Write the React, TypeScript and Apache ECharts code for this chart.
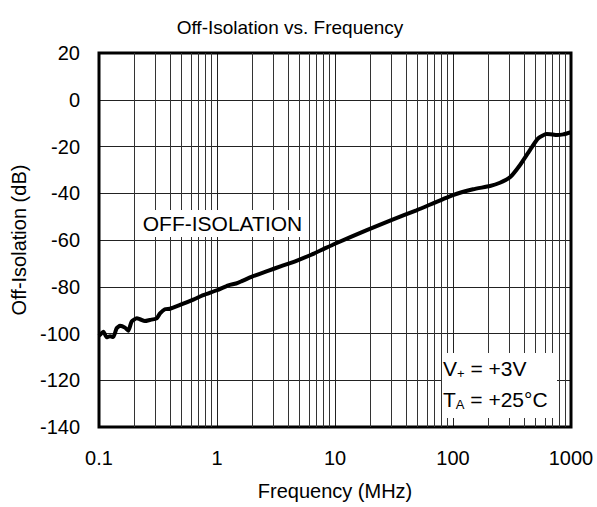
import React, { useEffect, useRef } from "react";
import * as echarts from "echarts";

const frequencyMHz = [
  0.1, 0.102, 0.109, 0.116, 0.124, 0.132, 0.141, 0.151, 0.166, 0.177, 0.189,
  0.209, 0.2225, 0.245, 0.27, 0.308, 0.329, 0.362, 0.4, 0.486, 0.63, 0.765,
  1.0, 1.25, 1.45, 1.62, 2.0, 2.7, 3.5, 4.6, 6.3, 8.2, 10, 18.6, 30, 49, 100,
  148, 206, 250, 304, 370, 449, 528, 622, 700, 757, 861, 1000,
];
const offIsolationDb = [
  -101, -100.6, -99.2, -101.6, -101.2, -101.5, -97.8, -96.7, -97.5, -98.8,
  -94.9, -93.5, -93.9, -94.7, -94.2, -93.5, -91.4, -89.6, -89.4, -87.8, -85.5,
  -83.6, -81.5, -79.4, -78.6, -77.6, -75.6, -73.2, -71.2, -69.1, -66.3, -63.6,
  -61.6, -55.8, -51.5, -47.3, -40.8, -38.3, -36.9, -35.5, -33.2, -27.9, -21.5,
  -16.5, -14.7, -14.9, -15.1, -14.8, -13.9,
];
const minorFreqLines = [
  0.2, 0.3, 0.4, 0.5, 0.6, 0.7, 0.8, 0.9,
  2, 3, 4, 5, 6, 7, 8, 9,
  20, 30, 40, 50, 60, 70, 80, 90,
  200, 300, 400, 500, 600, 700, 800, 900,
];
const yMin = -140;
const yMax = 20;
const yStep = 20;

const FONT = "'Liberation Sans', Arial, sans-serif";

export default function App() {
  const ref = useRef<HTMLDivElement>(null);
  useEffect(() => {
    if (!ref.current) return;
    const chart = echarts.init(ref.current, undefined, { renderer: "svg" });
    chart.setOption({
      animation: false,
      backgroundColor: "#fff",
      textStyle: { fontFamily: FONT, color: "#000" },
      title: {
        text: "Off-Isolation vs. Frequency",
        left: 285,
        top: 13,
        textAlign: "center",
        textStyle: { fontFamily: FONT, fontSize: 19, fontWeight: "normal", color: "#000" },
      },
      grid: {
        left: 99,
        right: 26,
        top: 53,
        bottom: 80,
        show: true,
        borderColor: "#000",
        borderWidth: 3,
        backgroundColor: "transparent",
        z: 5,
      },
      xAxis: {
        type: "log",
        logBase: 10,
        min: 0.1,
        max: 1000,
        name: "Frequency (MHz)",
        nameLocation: "middle",
        nameGap: 54,
        nameTextStyle: { fontFamily: FONT, fontSize: 20, color: "#000" },
        axisLine: { show: false },
        axisTick: { show: false },
        axisLabel: {
          margin: 21,
          fontFamily: FONT,
          fontSize: 20,
          color: "#000",
          formatter: (v: number) => (v < 1 ? v.toFixed(1) : String(Math.round(v))),
        },
        splitLine: { show: true, lineStyle: { color: "#222", width: 1 } },
      },
      yAxis: {
        type: "value",
        min: yMin,
        max: yMax,
        interval: yStep,
        name: "Off-Isolation (dB)",
        nameLocation: "middle",
        nameGap: 68,
        nameTextStyle: { fontFamily: FONT, fontSize: 20, color: "#000" },
        axisLine: { show: false },
        axisTick: { show: false },
        axisLabel: { margin: 19, fontFamily: FONT, fontSize: 20, color: "#000" },
        splitLine: { show: true, lineStyle: { color: "#222", width: 1 } },
      },
      series: [
        {
          type: "line",
          z: 1,
          silent: true,
          data: [[1, -200]],
          showSymbol: false,
          lineStyle: { opacity: 0 },
          markLine: {
            silent: true,
            symbol: "none",
            label: { show: false },
            lineStyle: { color: "#333", width: 1, type: "solid" },
            data: minorFreqLines.map((f) => ({ xAxis: f })),
          },
        },
        {
          type: "line",
          z: 10,
          data: frequencyMHz.map((f, i) => [f, offIsolationDb[i]]),
          showSymbol: false,
          smooth: 0.2,
          lineStyle: { color: "#000", width: 4 },
        },
      ],
      graphic: [
        {
          type: "rect",
          z: 20,
          shape: { x: 137, y: 210, width: 171, height: 27 },
          style: { fill: "#fff" },
        },
        {
          type: "text",
          z: 21,
          x: 222.5,
          y: 223.5,
          style: {
            text: "OFF-ISOLATION",
            fontFamily: FONT,
            fontSize: 21,
            fill: "#000",
            align: "center",
            verticalAlign: "middle",
          },
        },
        {
          type: "rect",
          z: 20,
          shape: { x: 442, y: 353, width: 115, height: 65 },
          style: { fill: "#fff" },
        },
        {
          type: "text",
          z: 21,
          x: 443,
          y: 368,
          style: {
            text: "{m|V}{s|+}{m| = +3V}",
            verticalAlign: "middle",
            rich: {
              m: { fontFamily: FONT, fontSize: 21, fill: "#000", color: "#000" },
              s: { fontFamily: FONT, fontSize: 13, fill: "#000", color: "#000", padding: [10, 0, 0, 0] },
            },
          },
        },
        {
          type: "text",
          z: 21,
          x: 443,
          y: 399,
          style: {
            text: "{m|T}{s|A}{m| = +25°C}",
            verticalAlign: "middle",
            rich: {
              m: { fontFamily: FONT, fontSize: 21, fill: "#000", color: "#000" },
              s: { fontFamily: FONT, fontSize: 13, fill: "#000", color: "#000", padding: [10, 0, 0, 0] },
            },
          },
        },
      ],
    });
    return () => chart.dispose();
  }, []);
  return (
    <div
      ref={ref}
      style={{ position: "fixed", left: 0, top: 0, width: 597, height: 507, background: "#fff" }}
    />
  );
}
